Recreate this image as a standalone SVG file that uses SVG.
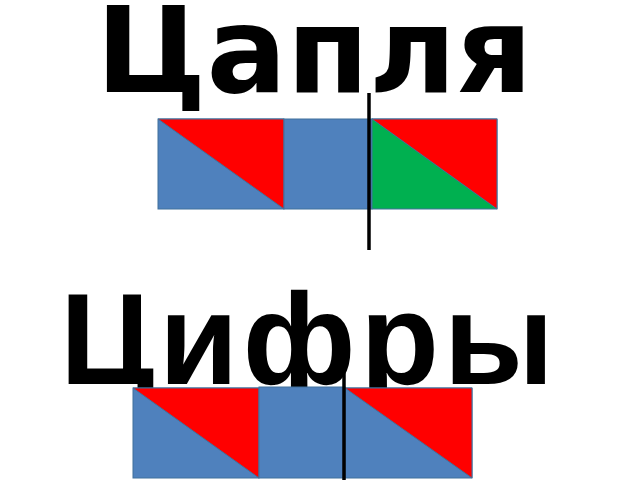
<svg xmlns="http://www.w3.org/2000/svg" width="640" height="480" viewBox="0 0 640 480">
<style>
.t{font-weight:bold;fill:#000;}
.b{fill:#4F81BD;stroke:#41719C;stroke-width:1;}
.r{fill:#FF0000;stroke:#41719C;stroke-width:1;stroke-linejoin:round;}
.g{fill:#00B050;stroke:#41719C;stroke-width:1;}
.ln{stroke:#000;stroke-width:3.5;}
</style>
<rect width="640" height="480" fill="#fff"/>
<g id="word1"><text class="t" x="96" y="92" font-family="'DejaVu Sans', sans-serif" font-size="119">Цапля</text></g>
<g id="row1">
<g id="c1"><rect class="b" x="158" y="119" width="126" height="90"/><polygon class="r" points="158,119 284,119 284,209"/></g>
<g id="c2"><rect class="b" x="284" y="119" width="88" height="90"/></g>
<g id="c3"><rect class="g" x="372" y="119" width="125" height="90"/><polygon class="r" points="372,119 497,119 497,209"/></g>
</g>
<g id="word2"><text class="t" x="60" y="384" font-family="'Liberation Sans', Arial, sans-serif" font-size="129" textLength="494" lengthAdjust="spacing">Цифры</text></g>
<g id="row2">
<g id="d1"><rect class="b" x="133" y="388" width="126" height="90"/><polygon class="r" points="133,388 259,388 259,478"/></g>
<g id="d2"><rect class="b" x="259" y="387" width="86" height="91"/></g>
<g id="d3"><rect class="b" x="345" y="388" width="127" height="90"/><polygon class="r" points="345,388 472,388 472,478"/></g>
</g>
<g id="connectors">
<line class="ln" x1="369" y1="93" x2="369" y2="250"/>
<line class="ln" x1="344" y1="345" x2="344" y2="480"/>
</g>
</svg>
